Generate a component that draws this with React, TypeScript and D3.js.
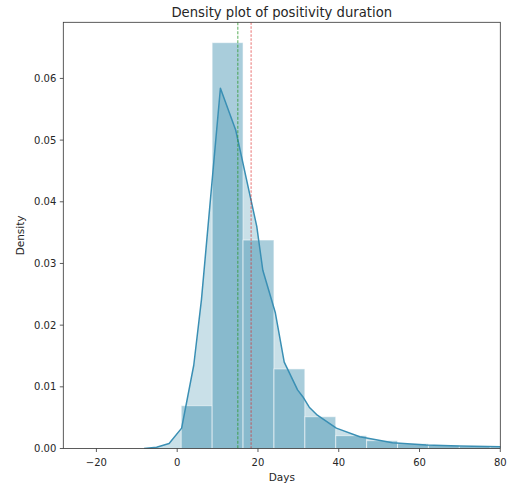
import React from "react";
import * as d3 from "d3";

const histEdges = [1, 8.65, 16.3, 23.95, 31.6, 39.25, 46.9, 54.55, 62.2, 69.85, 77.5, 85.15];
const histDensity = [0.00694, 0.0658, 0.0338, 0.0129, 0.00515, 0.00208, 0.00127, 0.00078, 0.00052, 0.00036, 0.00025];

const kdeDays = [-8.2, -5.1, -2.0, 1.1, 4.1, 6.0, 10.7, 14.5, 17.9, 19.7, 21.2, 24.3, 26.5, 29.8, 31.1, 32.7, 34.7, 39.4, 45.2, 53.3, 61.6, 69.8, 80.5];
const kdeDensity = [0, 0.0002, 0.0008, 0.0033, 0.0135, 0.0241, 0.0584, 0.0516, 0.0414, 0.036, 0.0289, 0.022, 0.014, 0.0095, 0.0084, 0.0067, 0.0054, 0.0033, 0.0019, 0.00094, 0.00057, 0.0004, 0.0003];

const medianDays = 15.0;
const meanDays = 18.3;

const xTicks = [-20, 0, 20, 40, 60, 80];
const yTicks = [0, 0.01, 0.02, 0.03, 0.04, 0.05, 0.06];

const titleText = "Density plot of positivity duration";
const xLabel = "Days";
const yLabel = "Density";

export default function App() {
  const W = 508, H = 486;
  const left = 63.3, right = 500.3, top = 22.3, bottom = 448.5;
  const x = d3.scaleLinear().domain([-28.2, 80]).range([left, right]);
  const y = d3.scaleLinear().domain([0, 0.0691]).range([bottom, top]);
  const C = "rgb(40,130,165)";
  const lineC = "rgb(58,143,180)";
  const font = "DejaVu Sans, sans-serif";
  const txt = "#262626";

  const pts: [number, number][] = kdeDays.map((d, i) => [d, kdeDensity[i]]);
  const line = d3.line<[number, number]>().x(d => x(d[0])).y(d => y(d[1]));
  const area = d3.area<[number, number]>().x(d => x(d[0])).y0(y(0)).y1(d => y(d[1]));

  return (
    <svg width={W} height={H} style={{ position: "absolute", left: 0, top: 0, background: "#fff" }} fontFamily={font}>
      <defs>
        <clipPath id="plotclip">
          <rect x={left} y={top} width={right - left} height={bottom - top} />
        </clipPath>
      </defs>
      <g clipPath="url(#plotclip)">
        <path d={area(pts) || ""} fill={C} fillOpacity={0.25} />
        {histDensity.map((v, i) => (
          <rect key={i}
            x={x(histEdges[i])}
            y={y(v)}
            width={x(histEdges[i + 1]) - x(histEdges[i])}
            height={y(0) - y(v)}
            fill={C} fillOpacity={0.4}
            stroke="#fff" strokeOpacity={0.55} strokeWidth={1} />
        ))}
        <path d={line(pts) || ""} fill="none" stroke={lineC} strokeWidth={1.5} strokeLinejoin="round" />
        <line x1={x(medianDays)} x2={x(medianDays)} y1={top} y2={bottom} stroke="rgb(40,150,40)" strokeOpacity={0.6} strokeWidth={1.3} strokeDasharray="3,1.5" />
        <line x1={x(meanDays)} x2={x(meanDays)} y1={top} y2={bottom} stroke="rgb(220,30,30)" strokeOpacity={0.8} strokeWidth={0.8} strokeDasharray="2.5,1.5" />
      </g>
      <rect x={left} y={top} width={right - left} height={bottom - top} fill="none" stroke="#333" strokeWidth={0.8} />
      {xTicks.map(t => (
        <g key={t}>
          <line x1={x(t)} x2={x(t)} y1={bottom} y2={bottom + 3.5} stroke="#333" strokeWidth={0.8} />
          <text x={x(t)} y={bottom + 17.5} textAnchor="middle" fontSize={10} fill={txt}>
            {t < 0 ? "\u2212" + Math.abs(t) : String(t)}
          </text>
        </g>
      ))}
      {yTicks.map(t => (
        <g key={t}>
          <line x1={left - 3.5} x2={left} y1={y(t)} y2={y(t)} stroke="#333" strokeWidth={0.8} />
          <text x={left - 7} y={y(t) + 3.6} textAnchor="end" fontSize={10} fill={txt}>{t.toFixed(2)}</text>
        </g>
      ))}
      <text x={(left + right) / 2} y={480.5} textAnchor="middle" fontSize={10.5} fill={txt}>{xLabel}</text>
      <text transform={`translate(24,${(top + bottom) / 2}) rotate(-90)`} textAnchor="middle" fontSize={10.5} fill={txt}>{yLabel}</text>
      <text x={(left + right) / 2} y={16.5} textAnchor="middle" fontSize={13.2} fill={txt}>{titleText}</text>
    </svg>
  );
}
